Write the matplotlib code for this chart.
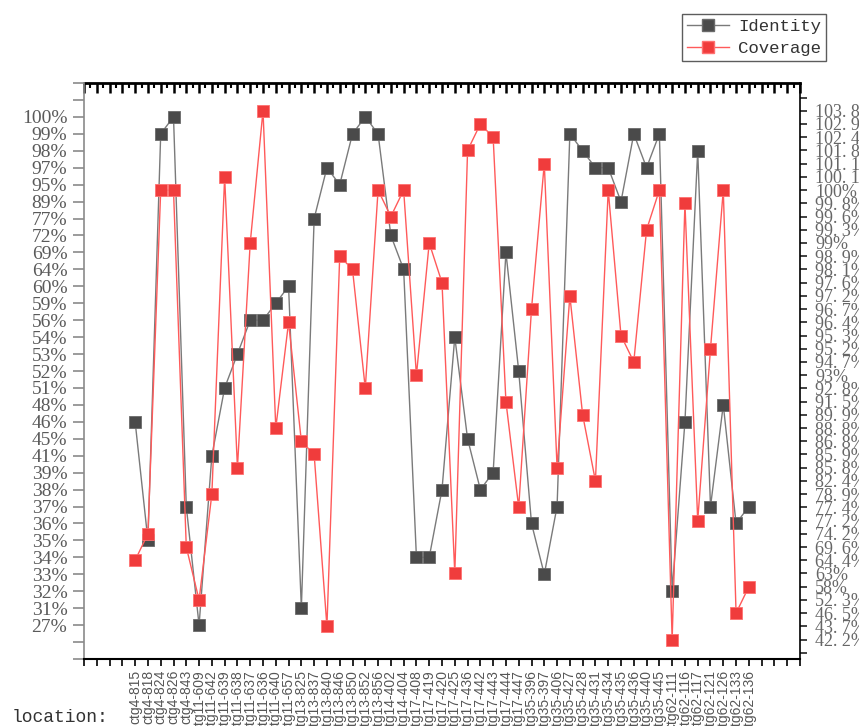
import matplotlib
matplotlib.use('Agg')
import matplotlib.pyplot as plt
from matplotlib.ticker import MultipleLocator
from matplotlib.lines import Line2D

locations = ['ctg4-815', 'ctg4-818', 'ctg4-824', 'ctg4-826', 'ctg4-843',
             'ctg11-609', 'ctg11-642', 'ctg11-639', 'ctg11-638', 'ctg11-637',
             'ctg11-636', 'ctg11-640', 'ctg11-657',
             'ctg13-825', 'ctg13-837', 'ctg13-840', 'ctg13-846', 'ctg13-850',
             'ctg13-852', 'ctg13-856', 'ctg14-402', 'ctg14-404',
             'ctg17-408', 'ctg17-419', 'ctg17-420', 'ctg17-425', 'ctg17-436',
             'ctg17-442', 'ctg17-443', 'ctg17-444', 'ctg17-447',
             'ctg35-396', 'ctg35-397', 'ctg35-406', 'ctg35-427',
             'Ctg35-428', 'Ctg35-431', 'Ctg35-434', 'Ctg35-435', 'Ctg35-436',
             'Ctg35-440', 'Ctg35-445',
             'Ctg62-111', 'Ctg62-116', 'Ctg62-117', 'Ctg62-121', 'Ctg62-126',
             'Ctg62-133', 'Ctg62-136']

identity = [46, 35, 99, 100, 37, 27, 41, 51, 53, 56, 56, 59, 60, 31, 77, 97,
            95, 99, 100, 99, 72, 64, 34, 34, 38, 54, 45, 38, 39, 69, 52, 36,
            33, 37, 99, 98, 97, 97, 89, 99, 97, 99, 32, 46, 98, 37, 48, 36, 37]

coverage = [64.4, 74.2, 100, 100, 69.6, 52.3, 78.9, 100.1, 85.8, 99, 103.8,
            88.8, 96.4, 86.8, 85.9, 43.7, 98.9, 98.1, 92.8, 100, 99.6, 100,
            93, 99, 97.6, 63, 101.8, 102.9, 102.4, 91.5, 77.4, 96.7, 101.1,
            85.8, 97.2, 89.9, 82.4, 100, 95.3, 94.7, 99.3, 100, 42.2, 99.8,
            77.2, 95.2, 100, 46.5, 58]

# both y axes are categorical: each distinct value gets its own evenly spaced slot
id_levels = sorted(set(identity))
cov_levels = sorted(set(coverage))
id_pos = [id_levels.index(v) for v in identity]
cov_pos = [cov_levels.index(v) for v in coverage]
x = list(range(len(locations)))

gray = '#4a4a4a'
red = '#f03c3c'

fig = plt.figure(figsize=(8.59, 7.26), dpi=100)
ax = fig.add_axes([84/859, 1-659/726, (800-84)/859, (659-83)/726])
ax2 = ax.twinx()

ax.plot(x, id_pos, color='#7a7a7a', lw=1.0, marker='s', ms=8.6,
        mfc=gray, mec='#6a6a6a', mew=0.6, zorder=3)
ax2.plot(x, cov_pos, color='#ff5a5a', lw=1.0, marker='s', ms=8.6,
         mfc=red, mec='#ff7070', mew=0.6, zorder=3)

ax.set_xlim(-4, 52)
ax.set_ylim(-2, 32)
ax2.set_ylim(-1.47, 42.1)

# bottom axis
ax.set_xticks(range(-4, 53))
ax.set_xticklabels([''] * 4 + locations + [''] * 4, rotation=90,
                   fontsize=10, color='#555555', family='Liberation Sans',
                   va='top', ha='center')
ax.tick_params(axis='x', direction='out', length=5, width=1.2, color='black', pad=3)

# left axis
ax.set_yticks(range(-2, 33))
ax.set_yticklabels(['', ''] + [f'{v:g}%' for v in id_levels] + ['', ''],
                   fontsize=14, color='#5a5a5a', family='Liberation Serif')
ax.tick_params(axis='y', direction='out', length=8, width=1.2, color='#8a8a8a', pad=4)

# right axis
ax2.set_yticks(range(-1, 42))
ax2.set_yticklabels([''] + [f'{v:g}%'.replace('.', '. ') for v in cov_levels] + [''],
                    fontsize=13, color='#666666', family='Liberation Serif')
ax2.tick_params(axis='y', direction='out', length=5, width=1.2, color='#222222', pad=6)

# top axis: inward ticks with minor halves
top = ax.secondary_xaxis('top')
top.xaxis.set_major_locator(MultipleLocator(1))
top.xaxis.set_minor_locator(MultipleLocator(0.5))
top.tick_params(which='major', direction='in', length=7, width=1.8, color='black',
                labeltop=False)
top.tick_params(which='minor', direction='in', length=3.5, width=1.5, color='black')
top.spines['top'].set_linewidth(2)

for s in ['top', 'right']:
    ax.spines[s].set_visible(False)
for s in ['top', 'left', 'bottom']:
    ax2.spines[s].set_visible(False)
ax.spines['left'].set_color('#8a8a8a')
ax.spines['left'].set_linewidth(1.2)
ax.spines['bottom'].set_linewidth(1.5)
ax2.spines['right'].set_linewidth(1.2)

fig.text(12/859, 1-718/726, 'location:', fontsize=13, family='Liberation Mono',
         color='#333333', va='center', ha='left')

handles = [Line2D([], [], color='#7a7a7a', lw=1.0, marker='s', ms=8.6, mfc=gray, mec='#6a6a6a'),
           Line2D([], [], color='#ff5a5a', lw=1.0, marker='s', ms=8.6, mfc=red, mec='#ff7070')]
leg = fig.legend(handles, ['Identity', 'Coverage'], loc='upper right',
                 bbox_to_anchor=(826/859, 1-14/726), frameon=True, fancybox=False,
                 prop={'family': 'Liberation Mono', 'size': 12.5}, handlelength=2.4,
                 handletextpad=0.5, borderpad=0.3, labelspacing=0.35,
                 borderaxespad=0)
leg.get_frame().set_edgecolor('#333333')
leg.get_frame().set_linewidth(1.0)
for t in leg.get_texts():
    t.set_color('#333333')

fig.savefig('out.png', dpi=100)
